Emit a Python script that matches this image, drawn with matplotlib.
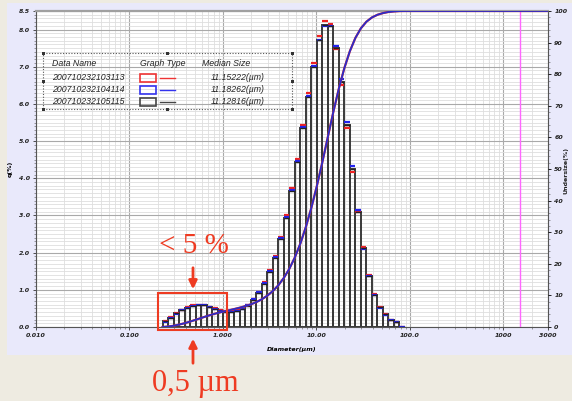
import numpy as np
import matplotlib
matplotlib.use("Agg")
import matplotlib.pyplot as plt
from matplotlib.patches import Rectangle

# ---------------- data ----------------
bin_edges = [0.226, 0.259, 0.296, 0.339, 0.389, 0.445, 0.510, 0.584, 0.669, 0.766,
             0.877, 1.005, 1.151, 1.318, 1.510, 1.729, 1.981, 2.269, 2.599, 2.976,
             3.409, 3.905, 4.472, 5.122, 5.867, 6.720, 7.697, 8.816, 10.097, 11.565,
             13.246, 15.172, 17.377, 19.904, 22.797, 26.111, 29.907, 34.255, 39.234,
             44.938, 51.471, 58.953, 67.523, 77.339, 88.583]

q_black = [0.15, 0.25, 0.37, 0.45, 0.52, 0.57, 0.59, 0.58, 0.54, 0.49,
           0.44, 0.41, 0.41, 0.44, 0.49, 0.57, 0.72, 0.91, 1.16, 1.48,
           1.85, 2.37, 2.93, 3.65, 4.44, 5.35, 6.18, 6.99, 7.71, 8.12,
           8.09, 7.50, 6.59, 5.43, 4.25, 3.09, 2.12, 1.37, 0.86, 0.54,
           0.35, 0.19, 0.13, 0.00]
q_red = [0.15, 0.26, 0.38, 0.46, 0.53, 0.58, 0.60, 0.59, 0.55, 0.50,
         0.45, 0.42, 0.42, 0.45, 0.51, 0.60, 0.76, 0.95, 1.21, 1.52,
         1.91, 2.42, 3.00, 3.73, 4.52, 5.44, 6.30, 7.10, 7.82, 8.22,
         8.15, 7.48, 6.52, 5.35, 4.17, 3.08, 2.16, 1.40, 0.88, 0.55,
         0.35, 0.19, 0.13, 0.00]
q_blue = [0.14, 0.24, 0.36, 0.45, 0.52, 0.57, 0.59, 0.58, 0.54, 0.49,
          0.44, 0.41, 0.41, 0.44, 0.49, 0.58, 0.74, 0.93, 1.18, 1.50,
          1.88, 2.40, 2.96, 3.68, 4.47, 5.38, 6.22, 7.02, 7.72, 8.10,
          8.10, 7.55, 6.67, 5.52, 4.33, 3.15, 2.11, 1.36, 0.85, 0.52,
          0.33, 0.19, 0.13, 0.00]

cum_sizes = [0.226, 0.259, 0.296, 0.339, 0.389, 0.445, 0.510, 0.584, 0.669, 0.766,
             0.877, 1.005, 1.151, 1.318, 1.510, 1.729, 1.981, 2.269, 2.599, 2.976,
             3.409, 3.905, 4.472, 5.122, 5.867, 6.720, 7.697, 8.816, 10.097, 11.565,
             13.246, 15.172, 17.377, 19.904, 22.797, 26.111, 29.907, 34.255, 39.234,
             44.938, 51.471, 58.953, 67.523, 77.339, 88.583, 3000.0]
undersize = [0.0, 0.15, 0.39, 0.76, 1.20, 1.71, 2.27, 2.85, 3.42, 3.96,
             4.44, 4.87, 5.27, 5.68, 6.11, 6.59, 7.15, 7.86, 8.76, 9.90,
             11.35, 13.17, 15.51, 18.39, 21.98, 26.35, 31.61, 37.69, 44.57, 52.15,
             60.14, 68.10, 75.48, 81.97, 87.31, 91.49, 94.53, 96.62, 97.96, 98.81,
             99.34, 99.69, 99.87, 99.97, 100.0, 100.0]

x_ticks = [0.01, 0.1, 1, 10, 100, 1000, 3000]
x_ticklabels = ["0.010", "0.100", "1.000", "10.00", "100.0", "1000", "3000"]
y_ticks = [0, 1, 2, 3, 4, 5, 6, 7, 8, 8.5]
y_ticklabels = ["0.0", "1.0", "2.0", "3.0", "4.0", "5.0", "6.0", "7.0", "8.0", "8.5"]
y2_ticks = [0, 10, 20, 30, 40, 50, 60, 70, 80, 90, 100]
y2_ticklabels = ["0", "10", "20", "30", "40", "50", "60", "70", "80", "90", "100"]

legend_names = ["200710232103113", "200710232104114", "200710232105115"]
legend_medians = ["11.15222(\u00b5m)", "11.18262(\u00b5m)", "11.12816(\u00b5m)"]
legend_colors = ["#ee3333", "#3333ee", "#444444"]

# ---------------- figure ----------------
W, H = 572, 401
fig = plt.figure(figsize=(W / 100, H / 100), dpi=100)
fig.patch.set_facecolor("#eeebe1")

def fx(x):
    return x / W

def fy(y):
    return 1 - y / H

# lavender panel
fig.add_artist(Rectangle((fx(7), fy(355)), fx(565), 352 / H, transform=fig.transFigure,
                         facecolor="#e9e9fb", edgecolor="none", zorder=0))

ax = fig.add_axes([fx(36), fy(327), 512 / W, 316 / H])
ax.set_facecolor("white")
ax.set_xscale("log")
ax.set_xlim(0.01, 3000)
ax.set_ylim(0, 8.5)

edges = np.array(bin_edges)
lefts = edges[:-1]
widths = np.diff(edges)
rights = edges[1:]

# grid
ax.set_yticks(np.arange(0, 8.51, 0.1), minor=True)
ax.grid(which="minor", axis="both", color="#dedede", lw=0.6, zorder=0)
ax.grid(which="major", axis="both", color="#a9a9a9", lw=0.8, zorder=0)
ax.set_axisbelow(True)

# bars
ax.bar(lefts, q_black, width=widths, align="edge", fill=False,
       edgecolor="#3a3a3a", linewidth=1.4, zorder=3)
ax.hlines(q_red, lefts, rights, colors="#ee2222", lw=1.6, zorder=4)
ax.hlines(q_blue, lefts, rights, colors="#2222ee", lw=1.6, zorder=4)
ax.hlines(q_black, lefts, rights, colors="#222222", lw=1.0, zorder=5)

# magenta vertical line
ax.axvline(1500, color="#ff66ff", lw=1.0, zorder=3)

ax.set_xticks(x_ticks)
ax.set_xticklabels(x_ticklabels)
ax.set_yticks(y_ticks)
ax.set_yticklabels(y_ticklabels)
ax.tick_params(axis="both", which="major", labelsize=4.5, length=2.5, width=0.6,
               colors="#333333", pad=2)
ax.tick_params(axis="both", which="minor", length=1.5, width=0.4, colors="#555555")
ax.xaxis.set_minor_formatter(plt.NullFormatter())
for lab in ax.get_xticklabels() + ax.get_yticklabels():
    lab.set_fontweight("bold")
    lab.set_fontstyle("italic")
    lab.set_color("#222222")

for s in ["left", "bottom", "right"]:
    ax.spines[s].set_color("#555555")
    ax.spines[s].set_linewidth(0.8)
ax.spines["top"].set_color("#a0a0a0")
ax.spines["top"].set_linewidth(1.6)

ax.set_xlabel("Diameter(\u00b5m)", fontsize=4.5, fontweight="bold", fontstyle="italic",
              labelpad=6)
ax.set_ylabel("q(%)", fontsize=4.5, fontweight="bold", labelpad=4)

# cumulative
ax2 = ax.twinx()
ax2.set_ylim(0, 100)
ax2.plot(cum_sizes, undersize, color="#dd3333", lw=1.6, zorder=5)
ax2.plot(cum_sizes, undersize, color="#2c2cc8", lw=1.3, zorder=6)
ax2.set_yticks(y2_ticks)
ax2.set_yticklabels(y2_ticklabels)
ax2.set_yticks(np.arange(0, 101, 2), minor=True)
ax2.tick_params(axis="y", which="major", labelsize=4.5, length=2.5, width=0.6, pad=2)
ax2.tick_params(axis="y", which="minor", length=1.5, width=0.4, colors="#555555")
for lab in ax2.get_yticklabels():
    lab.set_fontweight("bold")
    lab.set_fontstyle("italic")
    lab.set_color("#222222")
for s in ax2.spines.values():
    s.set_visible(False)
fig.text(fx(566), fy(170), "Undersize(%)", fontsize=4.5, fontweight="bold",
         rotation=90, ha="center", va="center", color="#222222")

# ---------------- legend block ----------------
lfont = dict(fontsize=6.3, fontstyle="italic", family="Liberation Sans", color="#222222",
             va="center")
fig.text(fx(52), fy(64), "Data Name", ha="left", **lfont)
fig.text(fx(140), fy(64), "Graph Type", ha="left", **lfont)
fig.text(fx(202), fy(64), "Median Size", ha="left", **lfont)
rows_y = [78, 90, 102]
for name, med, col, yy in zip(legend_names, legend_medians, legend_colors, rows_y):
    fig.text(fx(52), fy(yy), name, ha="left", **lfont)
    fig.text(fx(265), fy(yy), med, ha="right", **lfont)
    fig.add_artist(Rectangle((fx(140), fy(yy + 4)), 16 / W, 8 / H, transform=fig.transFigure,
                             facecolor="none", edgecolor=col, lw=1.2))
    fig.add_artist(plt.Line2D([fx(160), fx(175)], [fy(yy), fy(yy)], transform=fig.transFigure,
                              color=col, lw=1.0))
fig.add_artist(Rectangle((fx(43), fy(109)), 249 / W, 56 / H, transform=fig.transFigure,
                         facecolor="none", edgecolor="#555555", lw=0.8, linestyle=(0, (1, 1.5))))
for hx in (43, 167, 292):
    for hy in (53, 81, 109):
        if hx == 167 and hy == 81:
            continue
        fig.add_artist(Rectangle((fx(hx - 1.5), fy(hy + 1.5)), 3 / W, 3 / H,
                                 transform=fig.transFigure, facecolor="#333333",
                                 edgecolor="none"))

# ---------------- annotations ----------------
red = "#ee3b22"
fig.add_artist(Rectangle((fx(158), fy(330)), 69 / W, 37 / H, transform=fig.transFigure,
                         facecolor="none", edgecolor=red, lw=1.5, zorder=10))
fig.text(fx(194), fy(246), "< 5 %", color=red, fontsize=21, family="Liberation Serif",
         ha="center", va="center")
fig.text(fx(195), fy(383), "0,5 \u00b5m", color=red, fontsize=22, family="Liberation Serif",
         ha="center", va="center")
ax.annotate("", xy=(193, H - 292), xytext=(193, H - 265), xycoords="figure pixels",
            textcoords="figure pixels",
            arrowprops=dict(arrowstyle="-|>", color=red, lw=2, mutation_scale=12))
ax.annotate("", xy=(193, H - 336), xytext=(193, H - 366), xycoords="figure pixels",
            textcoords="figure pixels",
            arrowprops=dict(arrowstyle="-|>", color=red, lw=2, mutation_scale=12))

fig.savefig("out.png", dpi=100, facecolor=fig.get_facecolor())
